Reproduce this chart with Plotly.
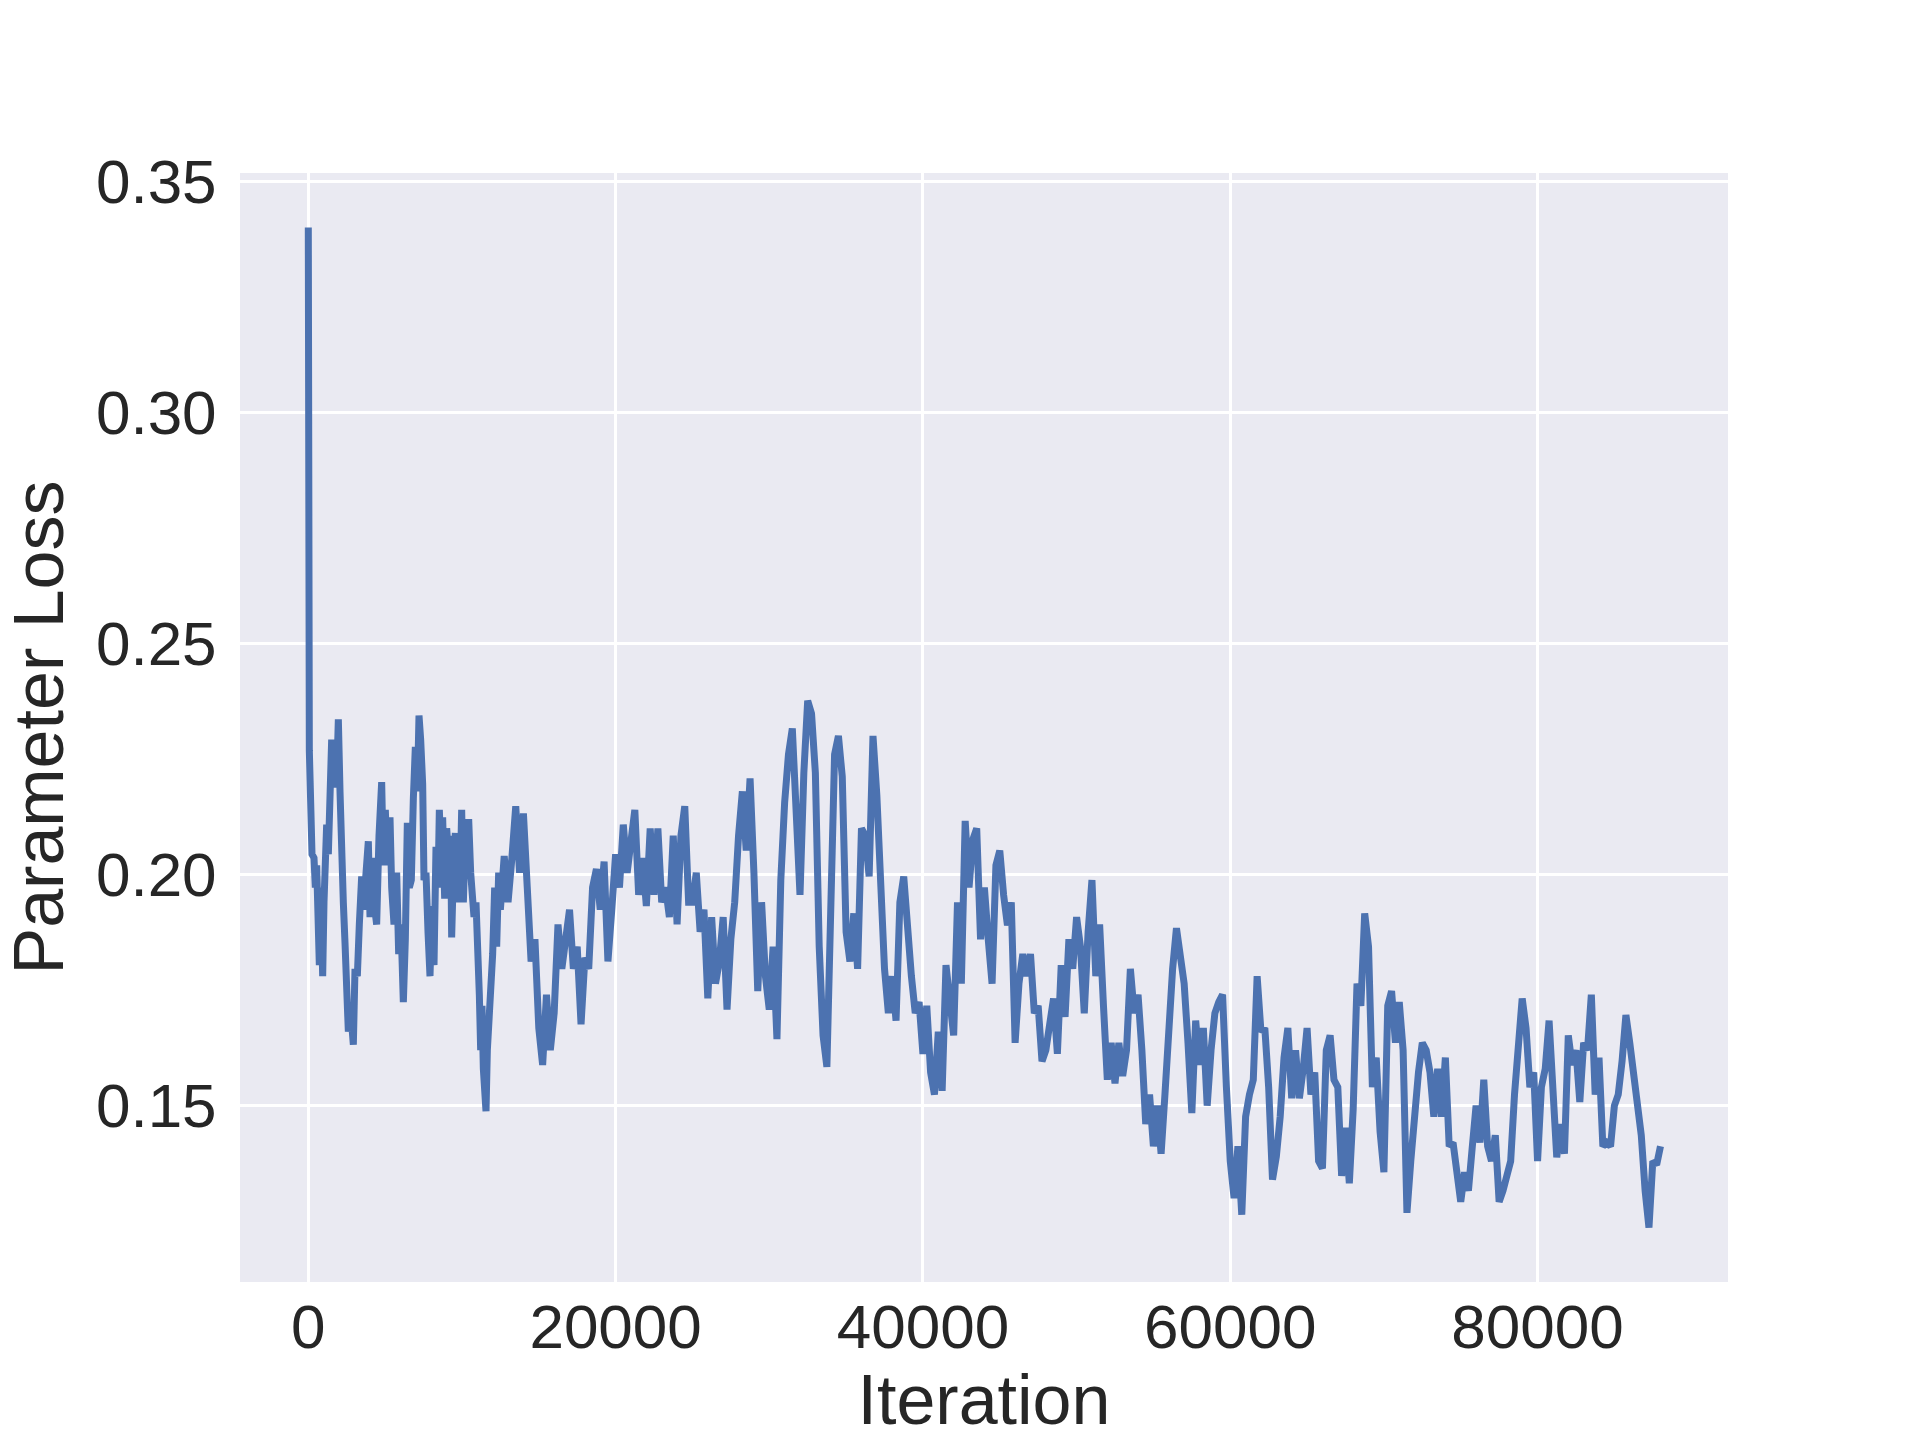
import plotly.graph_objects as go

# ---- data (iteration, parameter loss) ----
# early phase, irregularly read points
early_iterations = [0, 30, 67, 154, 241, 371, 458, 545, 631, 718, 805, 935, 1022, 1109, 1195, 1304, 1412, 1521,
                    1629, 1738, 1846, 1955, 2063, 2172, 2280, 2389, 2497, 2606, 2714, 2822, 2931, 3039, 3191,
                    3321, 3473, 3582, 3712, 3907, 4016, 4124, 4276, 4449, 4601, 4775, 4883, 5013, 5144, 5317,
                    5426, 5577, 5751, 5881, 6033, 6185, 6315, 6445, 6575, 6705, 6836, 6966, 7096, 7204, 7313,
                    7443, 7530, 7660, 7790, 7920, 8050, 8181, 8311, 8441, 8528, 8658, 8744, 8875, 9005, 9135,
                    9265, 9330, 9439, 9569, 9656, 9786, 9873, 9981, 10090, 10220, 10307, 10437, 10567, 10654,
                    10784, 10914, 11001, 11131, 11218, 11305, 11391, 11500, 11565, 11652, 11782, 11912, 11999,
                    12129, 12259, 12389]
early_loss = [0.340, 0.236, 0.2268, 0.2156, 0.2044, 0.2036, 0.1972, 0.202, 0.1924, 0.1804, 0.1972, 0.178, 0.194,
              0.206, 0.2108, 0.2044, 0.2236, 0.2292, 0.2188, 0.2276, 0.2204, 0.2336, 0.218, 0.1988, 0.194, 0.1852,
              0.1732, 0.166, 0.1724, 0.1652, 0.1632, 0.1796, 0.178, 0.1892, 0.1996, 0.1924, 0.1972, 0.2072,
              0.1908, 0.2036, 0.194, 0.1892, 0.2084, 0.22, 0.202, 0.214, 0.202, 0.2124, 0.1972, 0.1892, 0.2004,
              0.1828, 0.1892, 0.1724, 0.186, 0.2112, 0.1972, 0.1988, 0.2164, 0.2276, 0.218, 0.2344, 0.2292,
              0.2196, 0.1988, 0.2004, 0.1876, 0.178, 0.1932, 0.1804, 0.206, 0.1972, 0.214, 0.202, 0.2124, 0.1948,
              0.21, 0.2036, 0.2084, 0.1864, 0.2004, 0.209, 0.194, 0.2036, 0.1972, 0.214, 0.194, 0.2084, 0.2004,
              0.212, 0.2004, 0.1924, 0.1908, 0.194, 0.178, 0.174, 0.162, 0.1716, 0.158, 0.1532, 0.1488, 0.162,
              0.1684, 0.1732, 0.1828, 0.1972, 0.1844, 0.2004]

# later phase, logged every 250 iterations from 12500 to 88000
later_iterations = list(range(12500, 88001, 250))
loss_12500_25000 = [0.1924, 0.204, 0.194, 0.2036, 0.2148, 0.2004, 0.2132, 0.1972, 0.1812, 0.186,
                    0.1668, 0.1588, 0.174, 0.162, 0.170, 0.1892, 0.1796, 0.186, 0.1924, 0.1796,
                    0.1844, 0.1676, 0.182, 0.1796, 0.1972, 0.2012, 0.1924, 0.2028, 0.1812, 0.1924,
                    0.2044, 0.1972, 0.2108, 0.2004, 0.2076, 0.214, 0.1956, 0.2036, 0.1932, 0.21,
                    0.1956, 0.21, 0.194, 0.1972, 0.1908, 0.2084, 0.1892, 0.2084, 0.2148, 0.194,
                    0.194]
loss_25250_37500 = [0.2004, 0.1876, 0.1924, 0.1732, 0.1908, 0.1764, 0.1812, 0.1908, 0.1708, 0.186,
                    0.194, 0.2084, 0.218, 0.2052, 0.2208, 0.2004, 0.1748, 0.194, 0.178, 0.1708,
                    0.1844, 0.1644, 0.1988, 0.2156, 0.226, 0.2316, 0.2116, 0.1956, 0.222, 0.2376,
                    0.2348, 0.222, 0.1844, 0.1652, 0.1584, 0.190, 0.226, 0.230, 0.2212, 0.1876,
                    0.1812, 0.1916, 0.1796, 0.210, 0.2084, 0.1996, 0.230, 0.2172, 0.1972, 0.1796]
loss_37750_50250 = [0.170, 0.178, 0.1684, 0.194, 0.1996, 0.1876, 0.178, 0.170, 0.1724, 0.1612,
                    0.1716, 0.1572, 0.1524, 0.166, 0.1532, 0.1804, 0.1724, 0.1652, 0.194, 0.1764,
                    0.2116, 0.1972, 0.2076, 0.210, 0.186, 0.1972, 0.186, 0.1764, 0.202, 0.2052,
                    0.1956, 0.189, 0.194, 0.1636, 0.1764, 0.1828, 0.178, 0.1828, 0.170, 0.1716,
                    0.1596, 0.162, 0.1676, 0.1732, 0.1612, 0.1804, 0.1692, 0.186, 0.1796, 0.1908,
                    0.1844]
loss_50500_63000 = [0.170, 0.1876, 0.1988, 0.178, 0.1892, 0.1716, 0.1556, 0.1636, 0.1548, 0.1636,
                    0.1564, 0.162, 0.1796, 0.170, 0.174, 0.162, 0.146, 0.1524, 0.1412, 0.150,
                    0.1396, 0.1524, 0.1668, 0.1796, 0.1884, 0.1812, 0.1764, 0.1636, 0.1484, 0.1684,
                    0.1588, 0.1668, 0.150, 0.162, 0.170, 0.1724, 0.174, 0.154, 0.138, 0.130,
                    0.1412, 0.1264, 0.1476, 0.1524, 0.1556, 0.178, 0.166, 0.1668, 0.154, 0.134,
                    0.139]
loss_63250_75750 = [0.1476, 0.1604, 0.1668, 0.1516, 0.162, 0.1516, 0.158, 0.1668, 0.1524, 0.1572,
                    0.138, 0.1364, 0.162, 0.1652, 0.1556, 0.154, 0.1348, 0.1452, 0.1332, 0.1492,
                    0.1764, 0.1716, 0.1916, 0.1844, 0.154, 0.1604, 0.1444, 0.1356, 0.1716, 0.1748,
                    0.1636, 0.1724, 0.162, 0.1268, 0.138, 0.150, 0.1572, 0.1636, 0.162, 0.1572,
                    0.1476, 0.158, 0.1476, 0.1604, 0.1412, 0.142, 0.134, 0.1292, 0.1356, 0.1316,
                    0.141]
loss_76000_88000 = [0.150, 0.142, 0.1556, 0.1412, 0.138, 0.1436, 0.1292, 0.1316, 0.1348, 0.138,
                    0.1524, 0.162, 0.1732, 0.1668, 0.154, 0.1572, 0.138, 0.154, 0.158, 0.1684,
                    0.154, 0.1388, 0.146, 0.1396, 0.1652, 0.1588, 0.162, 0.1508, 0.1636, 0.162,
                    0.174, 0.1524, 0.1604, 0.1412, 0.142, 0.1412, 0.150, 0.1524, 0.1596, 0.1696,
                    0.1636, 0.1572, 0.1492, 0.1436, 0.1316, 0.1236, 0.138, 0.1372, 0.1412]

x_tick_values = [0, 20000, 40000, 60000, 80000]
y_tick_values = [0.15, 0.20, 0.25, 0.30, 0.35]
x_label = "Iteration"
y_label = "Parameter Loss"

later_loss = (loss_12500_25000 + loss_25250_37500 + loss_37750_50250 +
              loss_50500_63000 + loss_63250_75750 + loss_76000_88000)
assert len(early_iterations) == len(early_loss)
assert len(later_iterations) == len(later_loss)

iterations = early_iterations + later_iterations
loss = early_loss + later_loss

TEXT = "#262626"
FONT = "Liberation Sans, Arial, sans-serif"

fig = go.Figure()
fig.add_trace(go.Scatter(
    x=iterations, y=loss, mode="lines",
    line=dict(color="#4C72B0", width=7),
    showlegend=False, hoverinfo="skip",
))

fig.update_layout(
    width=1920, height=1440,
    margin=dict(l=240, r=192, t=173, b=158, pad=0),
    paper_bgcolor="white", plot_bgcolor="#EAEAF2",
    font=dict(family=FONT, color=TEXT, size=62),
    showlegend=False,
)
fig.update_xaxes(
    range=[-4445, 92394], tickvals=x_tick_values, ticktext=[str(v) for v in x_tick_values],
    showgrid=True, gridcolor="white", gridwidth=3, zeroline=False, showline=False,
    ticks="", ticklabelstandoff=3, automargin=False,
    tickfont=dict(size=62, family=FONT, color=TEXT),
    title=dict(text=x_label, font=dict(size=70, family=FONT, color=TEXT), standoff=10),
)
fig.update_yaxes(
    range=[0.11184, 0.3518], tickvals=y_tick_values, ticktext=[f"{v:.2f}" for v in y_tick_values],
    showgrid=True, gridcolor="white", gridwidth=3, zeroline=False, showline=False,
    ticks="outside", ticklen=10, tickcolor="rgba(0,0,0,0)", automargin=False,
    tickfont=dict(size=62, family=FONT, color=TEXT),
    title=dict(text=y_label, font=dict(size=70, family=FONT, color=TEXT), standoff=14),
)

fig.write_html("out.html")
